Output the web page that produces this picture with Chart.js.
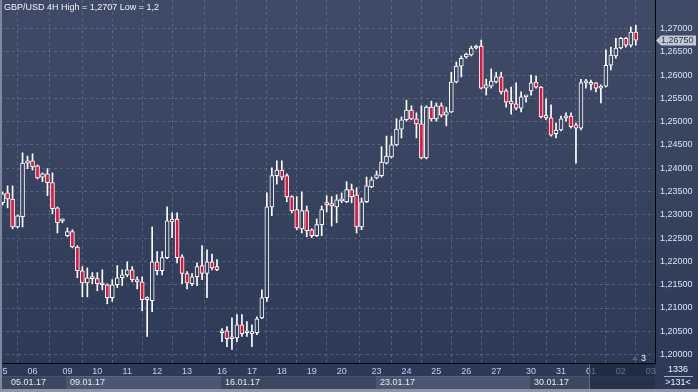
<!DOCTYPE html>
<html>
<head>
<meta charset="utf-8">
<script src="https://cdn.jsdelivr.net/npm/chart.js@4.4.1/dist/chart.umd.min.js"></script>
<style>
html,body{margin:0;padding:0;background:#2e3a56;}
canvas{display:block;}
</style>
</head>
<body>
<canvas id="c" width="698" height="392"></canvas>
<script>
// GBP/USD 4H candles, one entry per bar
const opens = [1.2326,1.2347,1.2334,1.2274,1.2296,1.2411,1.2416,1.2405,1.2381,1.2388,1.2369,1.2315,1.2287,1.2255,1.2264,1.2231,1.2180,1.2154,1.2167,1.2163,1.2150,1.2150,1.2122,1.2150,1.2165,1.2171,1.2182,1.2161,1.2156,1.2118,1.2116,1.2199,1.2180,1.2208,1.2285,1.2291,1.2210,1.2174,1.2152,1.2167,1.2191,1.2174,1.2199,1.2189,1.2047,1.2051,1.2034,1.2036,1.2064,1.2047,1.2045,1.2047,1.2079,1.2122,1.2317,1.2384,1.2396,1.2384,1.2339,1.2311,1.2270,1.2309,1.2268,1.2255,1.2279,1.2326,1.2324,1.2317,1.2330,1.2328,1.2354,1.2343,1.2274,1.2328,1.2360,1.2379,1.2384,1.2411,1.2424,1.2450,1.2484,1.2504,1.2525,1.2506,1.2495,1.2422,1.2531,1.2506,1.2534,1.2514,1.2521,1.2585,1.2619,1.2639,1.2643,1.2658,1.2662,1.2572,1.2576,1.2585,1.2596,1.2566,1.2544,1.2538,1.2529,1.2553,1.2566,1.2585,1.2574,1.2514,1.2508,1.2474,1.2482,1.2508,1.2512,1.2493,1.2486,1.2583,1.2580,1.2583,1.2572,1.2576,1.2621,1.2641,1.2658,1.2679,1.2664,1.2692];
const highs = [1.2349,1.2362,1.2362,1.2300,1.2433,1.2426,1.2431,1.2407,1.2390,1.2399,1.2390,1.2317,1.2291,1.2272,1.2268,1.2234,1.2189,1.2186,1.2176,1.2176,1.2182,1.2152,1.2161,1.2191,1.2182,1.2199,1.2189,1.2167,1.2167,1.2124,1.2274,1.2221,1.2221,1.2317,1.2304,1.2304,1.2214,1.2178,1.2174,1.2197,1.2234,1.2225,1.2216,1.2204,1.2056,1.2060,1.2079,1.2086,1.2086,1.2071,1.2064,1.2081,1.2139,1.2347,1.2401,1.2416,1.2416,1.2388,1.2341,1.2339,1.2349,1.2319,1.2270,1.2291,1.2319,1.2341,1.2339,1.2343,1.2347,1.2371,1.2366,1.2358,1.2336,1.2381,1.2381,1.2394,1.2446,1.2469,1.2469,1.2506,1.2510,1.2546,1.2534,1.2519,1.2534,1.2534,1.2544,1.2540,1.2540,1.2531,1.2606,1.2628,1.2641,1.2647,1.2662,1.2664,1.2675,1.2591,1.2613,1.2606,1.2606,1.2570,1.2574,1.2583,1.2564,1.2555,1.2600,1.2598,1.2576,1.2549,1.2536,1.2497,1.2512,1.2519,1.2519,1.2497,1.2591,1.2591,1.2589,1.2584,1.2579,1.2654,1.2660,1.2679,1.2681,1.2681,1.2703,1.2707];
const lows = [1.2321,1.2315,1.2270,1.2272,1.2274,1.2399,1.2396,1.2377,1.2371,1.2341,1.2302,1.2261,1.2283,1.2253,1.2229,1.2165,1.2124,1.2124,1.2152,1.2137,1.2139,1.2109,1.2114,1.2144,1.2148,1.2167,1.2156,1.2141,1.2094,1.2039,1.2092,1.2171,1.2171,1.2206,1.2251,1.2197,1.2152,1.2141,1.2148,1.2148,1.2161,1.2122,1.2182,1.2180,1.2028,1.2017,1.2011,1.2028,1.2039,1.2039,1.2017,1.2043,1.2077,1.2114,1.2298,1.2366,1.2375,1.2328,1.2304,1.2268,1.2261,1.2253,1.2251,1.2253,1.2255,1.2306,1.2276,1.2283,1.2326,1.2326,1.2326,1.2261,1.2268,1.2326,1.2358,1.2377,1.2381,1.2409,1.2422,1.2448,1.2465,1.2501,1.2504,1.2465,1.2420,1.2420,1.2501,1.2501,1.2510,1.2491,1.2519,1.2583,1.2596,1.2636,1.2641,1.2656,1.2570,1.2557,1.2572,1.2583,1.2559,1.2531,1.2516,1.2525,1.2521,1.2542,1.2557,1.2572,1.2508,1.2504,1.2469,1.2465,1.2480,1.2501,1.2486,1.2411,1.2482,1.2572,1.2568,1.2564,1.2540,1.2574,1.2611,1.2636,1.2656,1.2660,1.2660,1.2664];
const closes = [1.2345,1.2334,1.2274,1.2298,1.2411,1.2416,1.2403,1.2379,1.2388,1.2369,1.2313,1.2283,1.2287,1.2264,1.2231,1.2180,1.2154,1.2165,1.2163,1.2152,1.2150,1.2122,1.2150,1.2165,1.2171,1.2182,1.2161,1.2156,1.2118,1.2118,1.2199,1.2180,1.2208,1.2287,1.2291,1.2208,1.2174,1.2154,1.2167,1.2189,1.2174,1.2199,1.2186,1.2182,1.2047,1.2034,1.2036,1.2064,1.2045,1.2047,1.2049,1.2077,1.2122,1.2317,1.2384,1.2396,1.2381,1.2339,1.2309,1.2272,1.2309,1.2266,1.2255,1.2279,1.2311,1.2321,1.2319,1.2332,1.2331,1.2354,1.2339,1.2274,1.2328,1.2362,1.2375,1.2386,1.2413,1.2426,1.2450,1.2484,1.2504,1.2525,1.2506,1.2495,1.2422,1.2531,1.2506,1.2534,1.2514,1.2521,1.2585,1.2619,1.2636,1.2645,1.2658,1.2662,1.2572,1.2579,1.2587,1.2596,1.2564,1.2542,1.2538,1.2529,1.2553,1.2554,1.2583,1.2574,1.2510,1.2508,1.2471,1.2482,1.2506,1.2512,1.2489,1.2486,1.2583,1.2584,1.2580,1.2572,1.2576,1.2621,1.2643,1.2658,1.2679,1.2664,1.2692,1.2675];

// bottom axis: first bar of each day, and the week rows under it
const dayTickIdx = [0,6,13,19,25,31,37,44,50,56,62,68,75,81,87,93,99,106,112,118,124,130];
const dayTickLabels = ['05','06','09','10','11','12','13','16','17','18','19','20','23','24','25','26','27','30','31','01','02','03'];
const weekIdx = [0,13,44,75,106];
const weekLabels = ['05.01.17','09.01.17','16.01.17','23.01.17','30.01.17'];
const priceTicks = [1.200,1.205,1.210,1.215,1.220,1.225,1.230,1.235,1.240,1.245,1.250,1.255,1.260,1.265,1.270];

const titleText = 'GBP/USD 4H High = 1,2707 Low = 1,2';
const barsCount = '1336';
const visibleCount = '>131<';

const FONT = '"Liberation Sans", Arial, sans-serif';
const RED = '#e3143c';
let bgGrad = null;
function getGrad(ctx) {
  if (!bgGrad) {
    bgGrad = ctx.createLinearGradient(0, 0, 0, 392);
    bgGrad.addColorStop(0, '#3f4b66');
    bgGrad.addColorStop(1, '#2c3956');
  }
  return bgGrad;
}
const fmt = v => v.toFixed(5).replace('.', ',');

const decor = {
  id: 'decor',
  beforeDraw(chart) {
    const {ctx, width, height} = chart;
    const xs = chart.scales.x, a = chart.chartArea;
    ctx.save();
    ctx.fillStyle = getGrad(ctx);
    ctx.fillRect(0, 0, width, height);
    // week bands
    for (let i = 0; i < weekIdx.length; i++) {
      const x0 = i === 0 ? 0 : Math.round(xs.getPixelForValue(weekIdx[i])) - 1;
      const x1 = i === weekIdx.length - 1 ? a.right : Math.round(xs.getPixelForValue(weekIdx[i + 1])) - 1;
      ctx.fillStyle = i % 2 ? '#4a5772' : '#3b4862';
      ctx.fillRect(x0, 376, x1 - x0, 13);
      ctx.fillStyle = i % 2 ? '#5a6781' : '#46536d';
      ctx.fillRect(x0, 376, x1 - x0, 1);
    }
    ctx.fillStyle = '#8d96a7';
    ctx.fillRect(0, 389, width, 3);
    ctx.restore();
  },
  afterDraw(chart) {
    const {ctx} = chart;
    const xs = chart.scales.x, ys = chart.scales.y, a = chart.chartArea;
    ctx.save();
    ctx.font = '9px ' + FONT;
    ctx.textBaseline = 'middle';
    // week labels
    ctx.fillStyle = '#e4eaf4';
    ctx.textAlign = 'left';
    weekIdx.forEach((w, i) => {
      const x0 = i === 0 ? 0 : Math.round(xs.getPixelForValue(w)) - 1;
      ctx.fillText(weekLabels[i], x0 + (i === 0 ? 11 : 4), 383);
    });
    // future area overlay
    const fx = Math.round(xs.getPixelForValue(117.6));
    ctx.fillStyle = 'rgba(22,32,52,0.55)';
    ctx.fillRect(fx, 364, a.right - fx, 25);
    ctx.fillStyle = 'rgba(120,130,150,0.7)';
    ctx.fillRect(fx, 364, 1, 25);
    // left border
    ctx.fillStyle = '#7f889b';
    ctx.fillRect(0, 0, 2, 389);
    // title
    ctx.fillStyle = '#eef2f8';
    ctx.fillText(titleText, 4, 7.5);
    // current price marker
    const last = closes[closes.length - 1];
    const py = Math.round(ys.getPixelForValue(last)) + 0.5;
    ctx.fillStyle = '#c4c8d0';
    ctx.beginPath();
    ctx.moveTo(656, py);
    ctx.lineTo(661, py - 5);
    ctx.lineTo(696, py - 5);
    ctx.lineTo(696, py + 5);
    ctx.lineTo(661, py + 5);
    ctx.closePath();
    ctx.fill();
    ctx.fillStyle = '#2b3650';
    ctx.fillText(fmt(last), 661, py);
    // small marker near bottom right of plot
    ctx.fillStyle = '#56627c';
    ctx.beginPath();
    ctx.moveTo(632, 360);
    ctx.lineTo(635, 356);
    ctx.lineTo(638, 360);
    ctx.closePath();
    ctx.fill();
    ctx.fillStyle = '#eef2f8';
    ctx.fillText('3', 641, 358.5);
    // bottom right counters
    ctx.textAlign = 'center';
    ctx.fillText(barsCount, 678, 370);
    ctx.fillText(visibleCount, 678, 383);
    ctx.fillStyle = '#aab2c2';
    ctx.fillRect(664, 376, 29, 1);
    ctx.restore();
  }
};

const gridColor = 'rgba(125,140,170,0.45)';

new Chart(document.getElementById('c'), {
  type: 'bar',
  data: {
    datasets: [
      {
        label: 'body',
        data: closes.map((c, i) => ({x: i, y: [opens[i], c]})),
        grouped: false,
        barThickness: 4,
        minBarLength: 2,
        borderWidth: 1,
        borderColor: '#ffffff',
        borderSkipped: false,
        backgroundColor: c => closes[c.dataIndex] < opens[c.dataIndex] ? RED : getGrad(c.chart.ctx),
        order: 0
      },
      {
        label: 'wick',
        data: highs.map((h, i) => ({x: i, y: [lows[i], h]})),
        grouped: false,
        barThickness: 1,
        borderWidth: 0,
        backgroundColor: '#ffffff',
        order: 1
      }
    ]
  },
  options: {
    responsive: false,
    animation: false,
    events: [],
    layout: {padding: 0},
    plugins: {legend: {display: false}, tooltip: {enabled: false}},
    scales: {
      x: {
        type: 'linear',
        min: -0.52,
        max: 130.85,
        offset: false,
        afterBuildTicks: s => { s.ticks = dayTickIdx.map(v => ({value: v})); },
        afterFit: s => { s.height = 29; s.paddingLeft = 0; s.paddingRight = 0; },
        ticks: {
          autoSkip: false, maxRotation: 0, padding: 3,
          color: '#bcd0ee', font: {family: FONT, size: 9},
          callback: (v, i) => dayTickLabels[i]
        },
        grid: {color: gridColor, drawTicks: false, lineWidth: 1},
        border: {display: true, color: '#000000', width: 1, dash: [3, 3]}
      },
      y: {
        position: 'right',
        min: 1.1982,
        max: 1.2761,
        afterBuildTicks: s => { s.ticks = priceTicks.map(v => ({value: v})); },
        afterFit: s => { s.width = 43; s.paddingTop = 0; s.paddingBottom = 0; },
        ticks: {
          padding: 5, color: '#d6e2f4', font: {family: FONT, size: 9},
          callback: v => fmt(v)
        },
        grid: {color: gridColor, drawTicks: false, lineWidth: 1},
        border: {display: true, color: '#000000', width: 1, dash: [3, 3]}
      }
    }
  },
  plugins: [decor]
});
</script>
</body>
</html>
